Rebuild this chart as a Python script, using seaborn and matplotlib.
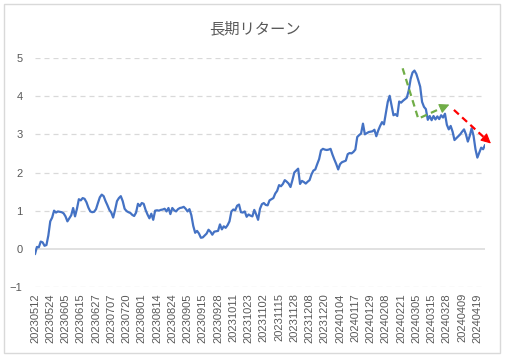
import numpy as np
import pandas as pd
import matplotlib
matplotlib.use('Agg')
import matplotlib.pyplot as plt
from matplotlib.patches import Rectangle
import seaborn as sns

# long-term return, one value per trading day
returns = [
    -0.14, 0.05, 0.04, 0.19, 0.17, 0.08, 0.10, 0.35,
    0.72, 0.82, 1.00, 0.95, 0.98, 0.97, 0.96, 0.93,
    0.85, 0.72, 0.80, 0.88, 1.07, 0.85, 1.05, 1.30,
    1.27, 1.33, 1.31, 1.22, 1.08, 0.98, 0.96, 0.97,
    1.04, 1.20, 1.35, 1.42, 1.38, 1.25, 1.14, 1.02,
    0.95, 0.82, 1.02, 1.25, 1.33, 1.38, 1.25, 1.05,
    0.99, 0.96, 0.94, 0.89, 0.86, 0.95, 1.18, 1.12,
    1.20, 1.18, 1.02, 0.90, 0.80, 0.92, 0.76, 1.00,
    1.01, 1.00, 1.02, 1.03, 1.05, 0.98, 1.07, 0.91,
    1.07, 1.01, 0.98, 1.04, 1.07, 1.08, 1.10, 1.05,
    0.98, 1.04, 0.88, 0.60, 0.42, 0.47, 0.40, 0.29,
    0.30, 0.35, 0.40, 0.50, 0.45, 0.37, 0.45, 0.46,
    0.47, 0.64, 0.51, 0.59, 0.55, 0.62, 0.72, 0.98,
    1.03, 1.01, 1.13, 1.16, 0.96, 0.95, 0.98, 0.84,
    0.90, 0.87, 0.85, 1.02, 0.90, 0.76, 1.05, 1.17,
    1.20, 1.15, 1.14, 1.27, 1.30, 1.33, 1.45, 1.52,
    1.67, 1.64, 1.70, 1.80, 1.76, 1.71, 1.62, 1.80,
    2.00, 2.05, 2.10, 1.70, 1.78, 1.75, 1.71, 1.76,
    1.80, 1.95, 2.05, 2.08, 2.22, 2.35, 2.58, 2.62,
    2.60, 2.59, 2.60, 2.62, 2.47, 2.34, 2.22, 2.08,
    2.22, 2.27, 2.29, 2.31, 2.48, 2.51, 2.50, 2.54,
    2.60, 2.93, 2.98, 3.02, 3.28, 3.00, 3.03, 3.06,
    3.07, 3.08, 3.12, 2.95, 3.10, 3.22, 3.32, 3.26,
    3.55, 3.85, 4.01, 3.76, 3.50, 3.53, 3.48, 3.86,
    3.83, 3.88, 3.92, 3.96, 4.15, 4.45, 4.62, 4.67,
    4.58, 4.42, 4.25, 3.85, 3.72, 3.66, 3.38, 3.48,
    3.37, 3.48, 3.39, 3.47, 3.40, 3.50, 3.44, 3.54,
    3.25, 3.13, 3.22, 3.07, 2.85, 2.90, 2.95, 3.00,
    3.07, 3.13, 3.00, 2.81, 2.96, 3.16, 2.96, 2.61,
    2.39, 2.52, 2.65, 2.61, 2.72,
]

# Tokyo market holidays in the period
jp_holidays = ['2023-07-17', '2023-08-11', '2023-09-18', '2023-10-09',
               '2023-11-03', '2023-11-23', '2024-01-01', '2024-01-02',
               '2024-01-03', '2024-01-08', '2024-02-12', '2024-02-23',
               '2024-03-20']
trade_days = pd.bdate_range('2023-05-12', '2024-04-25', freq='C', holidays=jp_holidays)

# hand drawn trend arrows (trading-day position, value)
green_x = [192.8, 201.0, 217.3]
green_y = [4.73, 3.41, 3.78]
red_x = [219.7, 239.1]
red_y = [3.64, 2.76]

df = pd.DataFrame({'date': trade_days.strftime('%Y%m%d'),
                   'pos': np.arange(len(trade_days)),
                   'ret': returns})

sns.set_theme(style='white')
plt.rcParams['font.family'] = ['Liberation Sans', 'DejaVu Sans']

fig = plt.figure(figsize=(5.07, 3.6), dpi=100)
ax = fig.add_axes([35 / 507, 1 - 287 / 360, 450 / 507, 229 / 360])

# grid lines
for v in range(-1, 6):
    if v == 0:
        ax.axhline(v, color='#d9d9d9', lw=1.1, zorder=1)
    else:
        ax.axhline(v, color='#d9d9d9', lw=0.9, ls=(0, (4, 3.2)), zorder=1)

sns.lineplot(data=df, x='pos', y='ret', color='#4472C4', lw=1.6, ax=ax, zorder=3)

head = '-|>,head_length=0.5,head_width=0.25'

# green arrow
ax.plot(green_x[:2] + [green_x[2] - 2.5], green_y[:2] + [green_y[2] - 0.055],
        color='#70AD47', lw=1.6, ls=(0, (3, 2)), zorder=4)
ax.annotate('', xy=(green_x[2], green_y[2]), xytext=(green_x[2] - 3, green_y[2] - 0.066),
            arrowprops=dict(arrowstyle=head, color='#70AD47', lw=0.8,
                            shrinkA=0, shrinkB=0),
            annotation_clip=False, zorder=4)

# red arrow
ax.plot([red_x[0], red_x[1] - 2.5], [red_y[0], red_y[1] + 0.11],
        color='#FF0000', lw=1.6, ls=(0, (3, 2)), zorder=4, clip_on=False)
ax.annotate('', xy=(red_x[1], red_y[1]), xytext=(red_x[1] - 3, red_y[1] + 0.135),
            arrowprops=dict(arrowstyle=head, color='#FF0000', lw=0.8,
                            shrinkA=0, shrinkB=0),
            annotation_clip=False, zorder=4)

ax.set_xlim(0, len(df) - 1)
ax.set_ylim(-1, 5)
ax.set_yticks(range(-1, 6))
ax.set_xticks(df['pos'][::8])
ax.set_xticklabels(df['date'][::8], rotation=90)
ax.tick_params(axis='both', length=0, labelsize=8, labelcolor='#595959')
ax.tick_params(axis='x', pad=4.5)
ax.tick_params(axis='y', pad=9)
ax.set_xlabel('')
ax.set_ylabel('')
for s in ax.spines.values():
    s.set_visible(False)

fig.text(255 / 507, 1 - 29 / 360, '長期リターン', ha='center', va='center',
         fontsize=11, color='#595959', family=['Noto Sans CJK JP', 'DejaVu Sans'])

# chart border
fig.add_artist(Rectangle((4 / 507, 1 - 353 / 360), 496 / 507, 349 / 360,
                         transform=fig.transFigure, fill=False,
                         edgecolor='#d9d9d9', lw=1))

fig.savefig('out.png', dpi=100, facecolor='white')
